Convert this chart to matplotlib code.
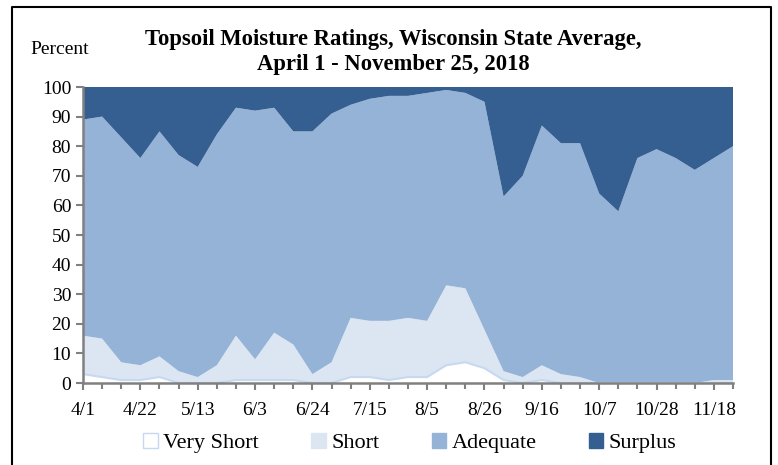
import numpy as np
import matplotlib.pyplot as plt
from matplotlib.patches import Patch
from matplotlib.lines import Line2D

# weekly ratings, 4/1 .. 11/25 2018
weeks = ['4/1', '4/8', '4/15', '4/22', '4/29', '5/6', '5/13', '5/20', '5/27',
         '6/3', '6/10', '6/17', '6/24', '7/1', '7/8', '7/15', '7/22', '7/29',
         '8/5', '8/12', '8/19', '8/26', '9/2', '9/9', '9/16', '9/23', '9/30',
         '10/7', '10/14', '10/21', '10/28', '11/4', '11/11', '11/18', '11/25']
very_short = [3, 2, 1, 1, 2, 0, 0, 0, 1, 1, 1, 1, 0, 0, 2, 2, 1, 2,
              2, 6, 7, 5, 1, 0, 1, 0, 0, 0, 0, 0, 0, 0, 0, 0, 0]
short = [13, 13, 6, 5, 7, 4, 2, 6, 15, 7, 16, 12, 3, 7, 20, 19, 20, 20,
         19, 27, 25, 13, 3, 2, 5, 3, 2, 0, 0, 0, 0, 0, 0, 1, 1]
adequate = [73, 75, 76, 70, 76, 73, 71, 78, 77, 84, 76, 72, 82, 84, 72, 75, 76, 75,
            77, 66, 66, 77, 59, 68, 81, 78, 79, 64, 58, 76, 79, 76, 72, 75, 79]
surplus = [11, 10, 17, 24, 15, 23, 27, 16, 7, 8, 7, 15, 15, 9, 6, 4, 3, 3,
           2, 1, 2, 5, 37, 30, 13, 19, 19, 36, 42, 24, 21, 24, 28, 24, 20]
series_names = ['Very Short', 'Short', 'Adequate', 'Surplus']
colors = ['#FFFFFF', '#DCE6F2', '#95B3D7', '#355F91']

plt.rcParams['font.family'] = ['Liberation Serif', 'DejaVu Serif']

fig = plt.figure(figsize=(7.78, 4.65), dpi=100)
ax = fig.add_axes([83 / 778, 1 - 383 / 465, 650 / 778, 296 / 465])

x = np.arange(len(weeks))
ax.stackplot(x, very_short, short, adequate, surplus, colors=colors, linewidth=0)
ax.plot(x, very_short, color='#C6D9F1', lw=1.5)

ax.set_xlim(0, len(weeks) - 1)
ax.set_ylim(0, 100)
ax.set_yticks(range(0, 101, 10))
ax.set_xticks(x[::3])
ax.set_xticklabels(weeks[::3])
ax.set_xticks(x, minor=True)
ax.tick_params(axis='both', labelsize=14, color='#808080', width=1.5, length=5)
ax.tick_params(axis='x', which='minor', color='#808080', width=1.5, length=4)
ax.tick_params(axis='x', pad=9)
for s in ['top', 'right']:
    ax.spines[s].set_visible(False)
for s in ['left', 'bottom']:
    ax.spines[s].set_color('#808080')
    ax.spines[s].set_linewidth(1.8)

fig.text(30 / 778, 1 - 49 / 465, 'Percent', fontsize=14, va='center', ha='left')
fig.text(0.506, 1 - 52 / 465,
         'Topsoil Moisture Ratings, Wisconsin State Average,\nApril 1 - November 25, 2018',
         fontsize=16.3, fontweight='bold', ha='center', va='center', linespacing=1.2)

handles = [Patch(facecolor=c, edgecolor=('#C6D9F1' if c == '#FFFFFF' else c), linewidth=1)
           for c in colors]
fig.legend(handles, series_names, loc='center', bbox_to_anchor=(0.527, 1 - 443 / 465),
           ncol=4, frameon=False, fontsize=16, handlelength=0.65, handleheight=0.65,
           handletextpad=0.25, columnspacing=2.35)

# outer chart frame
fx0, fx1, fy1 = 12 / 778, 771 / 778, 1 - 7 / 465
fig.add_artist(Line2D([fx0, fx0, fx1, fx1], [0, fy1, fy1, 0], color='black', lw=1.5,
                      transform=fig.transFigure))

fig.savefig('out.png', dpi=100)
